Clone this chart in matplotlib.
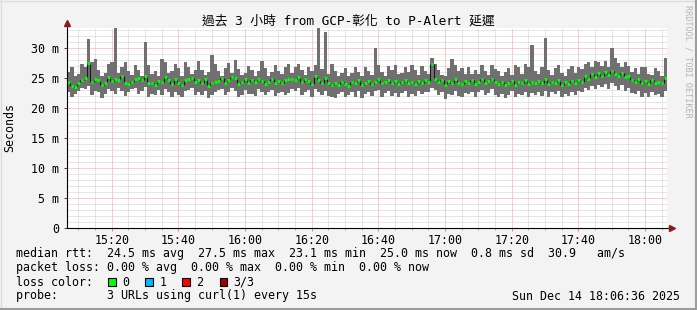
import numpy as np
import pandas as pd
import matplotlib
matplotlib.use('Agg')
import matplotlib.pyplot as plt
import matplotlib.dates as mdates
from matplotlib.patches import Rectangle
from matplotlib.ticker import MultipleLocator, FuncFormatter

W, H = 697, 310
MONO = ['DejaVu Sans Mono', 'Noto Sans CJK TC']

title = '過去 3 小時 from GCP-彰化 to P-Alert 延遲'
start = '2025-12-14 15:07:06'
window = ('2025-12-14 15:06:36', '2025-12-14 18:06:36')

# one value per minute (ms): median rtt, smoke low, smoke high
median_ms = [
    24.3, 23.6, 23.5, 24.1, 24.6, 25.0, 27.5, 24.4, 24.9, 24.7, 23.8, 24.1, 25.2, 24.5, 24.9, 24.6, 25.3, 24.1, 24.0, 24.4,
    24.9, 25.0, 24.6, 25.4, 24.1, 24.2, 23.9, 24.5, 24.3, 25.1, 24.6, 24.0, 24.8, 24.2, 23.9, 24.7, 24.9, 25.0, 24.3, 24.6,
    24.1, 24.8, 23.7, 24.2, 24.3, 24.5, 25.0, 24.2, 24.7, 25.2, 25.0, 24.0, 24.4, 24.8, 24.1, 24.6, 24.3, 24.9, 24.5, 24.0,
    24.3, 24.8, 24.2, 24.5, 24.1, 24.7, 24.9, 24.9, 24.6, 25.1, 24.3, 24.8, 24.5, 24.0, 25.3, 24.6, 24.2, 25.0, 24.1, 23.8,
    24.2, 23.9, 24.4, 24.0, 23.7, 24.3, 24.1, 24.6, 23.8, 24.2, 24.5, 24.0, 24.4, 24.8, 24.1, 24.3, 24.7, 24.2, 24.5, 24.0,
    24.3, 24.6, 24.1, 24.4, 24.0, 24.5, 24.2, 24.7, 24.4, 27.4, 24.9, 24.3, 24.6, 23.8, 24.5, 24.1, 24.8, 24.2, 24.0, 24.5,
    24.2, 24.6, 24.0, 24.4, 24.8, 24.1, 24.5, 24.9, 24.3, 24.0, 24.4, 23.8, 24.2, 24.5, 23.9, 24.3, 24.1, 24.6, 24.0, 24.4,
    24.1, 24.5, 24.2, 24.8, 24.0, 24.4, 24.1, 24.6, 23.9, 24.3, 24.0, 24.5, 24.2, 24.7, 24.4, 25.3, 24.9, 25.6, 25.2, 25.8,
    25.4, 26.0, 25.5, 26.2, 25.7, 25.3, 25.9, 25.1, 25.4, 24.7, 24.3, 24.8, 24.1, 24.5, 24.0, 24.6, 24.2, 24.4, 24.1, 25.0,
]
low_ms = [
    22.6, 21.8, 22.3, 22.9, 23.3, 23.2, 23.6, 22.1, 22.9, 22.7, 21.7, 22.4, 23.2, 22.8, 22.3, 23.3, 22.9, 22.0, 22.6, 23.1,
    23.3, 22.3, 22.8, 23.5, 21.9, 22.4, 22.1, 23.0, 22.2, 23.1, 22.7, 21.9, 22.6, 22.1, 21.8, 22.8, 23.0, 23.3, 22.2, 22.6,
    22.1, 22.9, 21.6, 22.1, 22.6, 23.0, 23.2, 22.2, 22.6, 23.3, 22.8, 21.8, 22.2, 23.0, 22.4, 22.4, 22.0, 23.1, 22.7, 22.1,
    22.6, 23.0, 22.0, 22.5, 22.7, 22.1, 22.5, 23.2, 22.8, 23.3, 22.1, 22.7, 23.0, 21.9, 23.1, 22.6, 22.2, 22.8, 22.0, 21.9,
    21.7, 22.3, 22.7, 21.9, 22.2, 22.6, 21.9, 22.8, 21.7, 22.4, 22.7, 22.0, 22.8, 23.0, 21.9, 22.5, 22.8, 22.0, 22.5, 21.8,
    22.5, 22.8, 21.9, 22.4, 22.0, 22.9, 22.3, 22.6, 22.7, 23.3, 23.0, 22.1, 22.6, 21.5, 22.4, 22.1, 22.9, 22.0, 21.8, 22.5,
    22.4, 22.7, 21.8, 22.6, 23.0, 22.1, 22.5, 23.1, 22.2, 21.8, 22.4, 21.7, 22.1, 22.8, 21.8, 22.4, 22.1, 22.7, 21.9, 22.5,
    22.2, 22.6, 22.0, 22.9, 21.8, 22.6, 22.3, 22.8, 21.8, 22.3, 22.0, 22.7, 22.1, 22.9, 22.6, 23.4, 23.0, 23.7, 23.1, 23.8,
    23.5, 24.0, 23.2, 24.2, 23.7, 23.0, 23.8, 22.9, 23.3, 22.5, 22.3, 22.8, 21.9, 22.5, 21.8, 22.6, 22.2, 22.4, 21.9, 22.9,
]
high_ms = [
    26.0, 26.9, 25.3, 25.6, 27.4, 26.9, 31.5, 27.6, 28.2, 26.3, 25.4, 25.9, 27.3, 27.6, 33.5, 25.8, 26.9, 27.6, 26.2, 25.5,
    27.2, 26.4, 25.4, 31.0, 27.1, 25.6, 26.1, 25.3, 28.1, 27.7, 25.8, 26.2, 27.4, 26.6, 25.3, 27.6, 26.8, 25.6, 26.3, 27.8,
    26.4, 25.5, 26.0, 28.8, 27.3, 26.1, 25.4, 26.6, 27.5, 25.9, 28.0, 26.5, 25.5, 25.9, 27.0, 26.3, 25.4, 26.2, 27.8, 26.6,
    25.4, 26.0, 27.1, 26.1, 25.6, 26.8, 27.4, 25.9, 26.9, 27.3, 26.4, 25.5, 26.8, 26.2, 27.2, 33.3, 26.5, 32.7, 25.7, 27.4,
    26.2, 25.3, 25.9, 26.7, 25.3, 25.8, 26.8, 26.0, 25.4, 26.9, 26.1, 25.5, 30.0, 27.1, 26.0, 25.4, 27.0, 26.3, 27.2, 25.7,
    25.9, 26.8, 26.0, 27.1, 26.3, 25.5, 27.0, 26.2, 25.6, 28.3, 27.3, 26.3, 25.5, 25.3, 26.6, 28.2, 27.2, 26.1, 26.7, 25.6,
    26.9, 25.7, 26.4, 25.6, 27.2, 26.2, 25.5, 27.2, 26.5, 26.1, 25.4, 26.0, 26.7, 25.5, 27.1, 26.8, 25.7, 27.3, 26.9, 30.5,
    26.2, 25.6, 26.8, 31.7, 26.3, 25.5, 26.6, 27.2, 25.8, 25.4, 26.5, 27.0, 25.9, 26.9, 26.5, 27.4, 27.6, 26.8, 27.8, 27.7,
    27.0, 27.9, 26.9, 30.0, 28.3, 27.5, 26.8, 27.6, 27.0, 26.0, 26.7, 25.6, 26.9, 26.9, 25.7, 25.5, 26.6, 26.1, 25.4, 28.3,
]

legend_lines = [
    'median rtt:  24.5 ms avg  27.5 ms max  23.1 ms min  25.0 ms now  0.8 ms sd  30.9   am/s',
    'packet loss: 0.00 % avg  0.00 % max  0.00 % min  0.00 % now',
    'loss color:',
    'probe:       3 URLs using curl(1) every 15s',
]
stamp = 'Sun Dec 14 18:06:36 2025'
loss_labels = ['0', '1', '2', '3/3']
loss_colors = ['#00ff00', '#00b8ff', '#ff0000', '#a00000']

times = mdates.date2num(pd.date_range(start, periods=len(median_ms), freq='min').to_pydatetime())
median = np.array(median_ms)
low = np.array(low_ms)
high = np.array(high_ms)
step = 1 / 1440


def fx(x):
    return x / W


def fy(y):
    return 1 - y / H


fig = plt.figure(figsize=(W / 100, H / 100), dpi=100, facecolor='#f3f3f3')
ax = fig.add_axes([fx(67), fy(228), 600 / W, 200 / H], facecolor='white')

# smoke, black median transitions and green median marks
ax.bar(times, high - low, bottom=low, width=step * 1.02, color='#707070', linewidth=0,
       antialiased=False, zorder=2)
ax.vlines(times[1:] - step / 2, median[:-1], median[1:], colors='#1a1a1a', lw=0.8, zorder=3)
ax.hlines(median, times - 0.36 * step, times + 0.36 * step, colors='#00ff00', lw=2.2, zorder=4)

xmin, xmax = mdates.date2num(pd.to_datetime(list(window)).to_pydatetime())
ax.set_xlim(xmin, xmax)
ax.set_ylim(0, 33.33)

ax.xaxis.set_major_locator(mdates.MinuteLocator(byminute=[0, 20, 40]))
ax.xaxis.set_minor_locator(mdates.MinuteLocator(byminute=range(0, 60, 5)))
ax.xaxis.set_major_formatter(mdates.DateFormatter('%H:%M'))
ax.yaxis.set_major_locator(MultipleLocator(5))
ax.yaxis.set_minor_locator(MultipleLocator(1))
ax.yaxis.set_major_formatter(FuncFormatter(lambda v, p: '0' if v == 0 else f'{v:.0f} m'))

ax.set_axisbelow(True)
ax.grid(which='minor', color='#cfcfcf', linestyle=(0, (1, 1)), lw=0.72)
ax.grid(which='major', color='#f2a0a0', linestyle=(0, (1, 1)), lw=0.72)

for s in ['top', 'right', 'left', 'bottom']:
    ax.spines[s].set_visible(False)
ax.plot([0, 0], [0, 1.02], transform=ax.transAxes, color='black', lw=0.8, clip_on=False, zorder=5)
ax.plot([0, 1.007], [0, 0], transform=ax.transAxes, color='black', lw=0.8, clip_on=False, zorder=5)
ax.plot([0], [1.025], marker='^', ms=4, color='#8b1a1a', transform=ax.transAxes, clip_on=False, zorder=6)
ax.plot([1.008], [0], marker='>', ms=4, color='#8b1a1a', transform=ax.transAxes, clip_on=False, zorder=6)

ax.tick_params(axis='x', which='major', length=2, width=0.7, color='#e08080', pad=2.5)
ax.tick_params(axis='x', which='minor', length=1.5, width=0.7, color='#a0a0a0')
ax.tick_params(axis='y', which='major', length=2, width=0.7, color='#404040', pad=3.5)
ax.tick_params(axis='y', which='minor', length=0)
for lab in ax.get_xticklabels() + ax.get_yticklabels():
    lab.set_family(MONO)
    lab.set_fontsize(8.4)
    lab.set_color('black')

fig.text(fx(W / 2), fy(21), title, family=MONO, fontsize=9.2, ha='center', va='center')
fig.text(fx(10), fy(128), 'Seconds', family=MONO, fontsize=8.4, rotation=90, ha='center', va='center')
fig.text(fx(688), fy(5), 'RRDTOOL / TOBI OETIKER', family=MONO, fontsize=6.1, rotation=270,
         ha='center', va='top', color='#b4b4b4')

rows = [254, 268, 282, 296]
for y, line in zip(rows, legend_lines):
    fig.text(fx(16), fy(y), line, family=MONO, fontsize=8.4, ha='left', va='center')
fig.text(fx(680), fy(296), stamp, family=MONO, fontsize=8.4, ha='right', va='center')

for k, (lab, col) in enumerate(zip(loss_labels, loss_colors)):
    x0 = 108 + k * 37.2
    fig.add_artist(Rectangle((fx(x0), fy(286)), 7.5 / W, 8 / H, transform=fig.transFigure,
                             facecolor=col, edgecolor='black', lw=0.8))
    fig.text(fx(x0 + 14), fy(282), lab, family=MONO, fontsize=8.4, ha='left', va='center')

# 3d frame
fig.add_artist(plt.Line2D([0, 1], [fy(0.5), fy(0.5)], transform=fig.transFigure, color='#dcdcdc', lw=1))
fig.add_artist(plt.Line2D([fx(0.5), fx(0.5)], [0, 1], transform=fig.transFigure, color='#dcdcdc', lw=1))
fig.add_artist(plt.Line2D([0, 1], [fy(309), fy(309)], transform=fig.transFigure, color='#9c9c9c', lw=1.5))
fig.add_artist(plt.Line2D([fx(696), fx(696)], [0, 1], transform=fig.transFigure, color='#9c9c9c', lw=1.5))

fig.savefig('out.png', dpi=100, facecolor=fig.get_facecolor())
